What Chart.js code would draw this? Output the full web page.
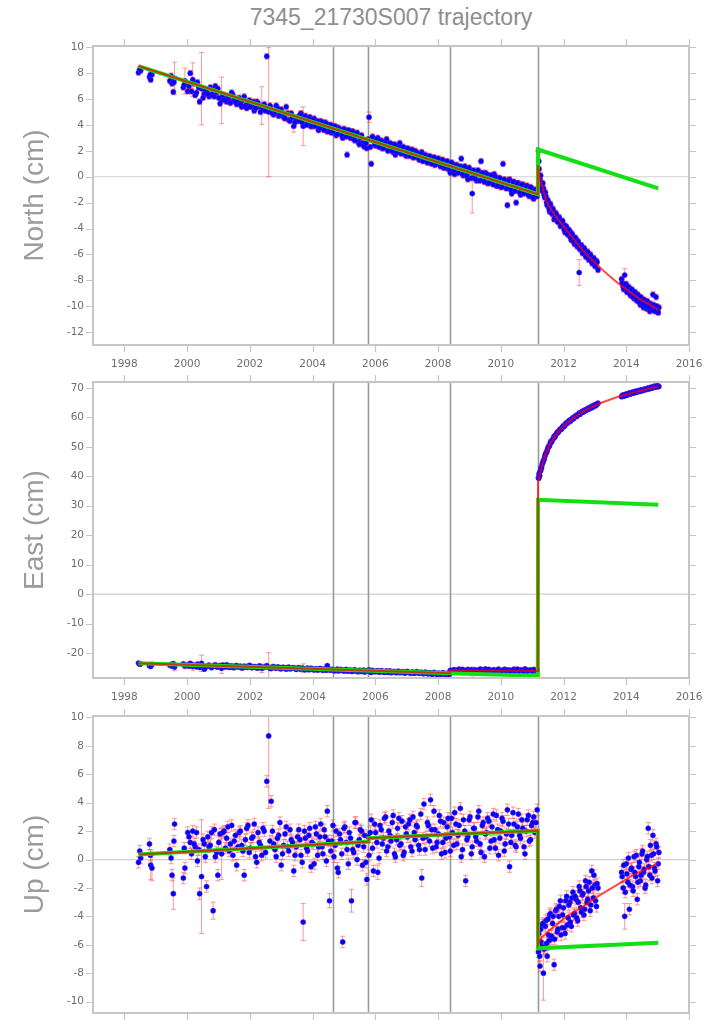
<!DOCTYPE html>
<html><head><meta charset="utf-8">
<script src="https://cdn.jsdelivr.net/npm/chart.js@4.4.1/dist/chart.umd.min.js"></script>
<style>
html,body{margin:0;padding:0;background:#fff;}
body{width:717px;height:1024px;position:relative;overflow:hidden;font-family:"Liberation Sans",Arial,sans-serif;}
#title{position:absolute;left:191px;width:400px;top:4px;text-align:center;font-size:23px;color:#8e8e8e;white-space:nowrap;}
canvas{position:absolute;left:0;}
</style></head><body>
<div id="title">7345_21730S007 trajectory</div>
<canvas id="cN" width="717" height="380" style="top:0px"></canvas>
<canvas id="cE" width="717" height="340" style="top:372px"></canvas>
<canvas id="cU" width="717" height="318" style="top:706px"></canvas>
<script>
// ---------------- data ----------------
const epochs = [
1998.45,1998.52,1998.80,1998.84,1998.88,1999.45,1999.52,1999.56,1999.60,1999.88,
1999.93,2000.02,2000.10,2000.18,2000.26,2000.33,2000.40,2000.46,2000.55,2000.62,
2000.70,2000.78,2000.83,2000.90,2000.98,2001.05,2001.10,2001.18,2001.26,2001.34,
2001.42,2001.50,2001.58,2001.66,2001.74,2001.82,2001.90,2001.98,2002.06,2002.14,
2002.22,2002.30,2002.38,2002.46,2002.54,2002.60,2002.68,2002.76,2002.84,2002.92,
2003.00,2003.08,2003.16,2003.24,2003.32,2003.40,2003.48,
2003.56,2003.63,2003.70,2003.77,2003.84,2003.91,2003.98,2004.05,2004.12,2004.19,
2004.26,2004.33,2004.40,2004.47,2004.54,2004.61,2004.68,2004.75,2004.82,2004.89,
2004.96,2005.03,2005.10,2005.17,2005.24,2005.31,2005.38,2005.45,2005.52,2005.59,
2005.66,2005.73,2005.80,2005.87,2005.94,2006.01,2006.08,2006.15,2006.22,2006.29,
2006.36,2006.43,2006.50,2006.57,2006.64,2006.71,2006.78,2006.85,2006.92,2006.99,
2007.06,2007.13,2007.20,2007.27,2007.34,2007.41,2007.48,2007.55,2007.62,2007.69,
2007.76,2007.83,2007.90,2007.97,2008.04,2008.11,2008.18,2008.25,2008.32,2008.39,
2008.46,2008.53,2008.60,2008.67,2008.74,2008.81,2008.88,2008.95,2009.02,2009.09,
2009.16,2009.23,2009.30,2009.37,2009.44,2009.51,2009.58,2009.65,2009.72,2009.79,
2009.86,2009.93,2010.00,2010.07,2010.14,2010.21,2010.28,2010.35,2010.42,2010.49,
2010.56,2010.63,2010.70,2010.77,2010.84,2010.91,2010.98,2011.05,2011.12,2011.16,
2011.20,2011.22,2011.25,2011.28,2011.32,2011.36,2011.40,2011.44,2011.48,2011.52,
2011.56,2011.60,2011.65,2011.70,2011.75,2011.80,2011.85,2011.90,2011.95,2012.00,
2012.05,2012.10,2012.15,2012.20,2012.25,2012.30,2012.35,2012.40,2012.45,2012.50,
2012.55,2012.60,2012.65,2012.70,2012.75,2012.80,2012.85,2012.90,2012.95,2013.00,
2013.05,2013.10,
2013.85,2013.90,2013.95,2014.00,2014.05,2014.10,2014.15,2014.20,2014.25,2014.30,
2014.35,2014.40,2014.45,2014.50,2014.55,2014.60,2014.65,2014.70,2014.75,2014.80,
2014.85,2014.90,2014.95,2015.00,2015.04,
// second pass of epochs
1998.49,1998.83,1999.49,1999.58,1999.91,2000.06,2000.14,2000.22,2000.30,2000.37,
2000.51,2000.58,2000.66,2000.74,2000.87,2000.94,2001.01,2001.14,2001.22,2001.30,
2001.38,2001.46,2001.54,2001.62,2001.70,2001.78,2001.86,2001.94,2002.02,2002.10,
2002.18,2002.26,2002.34,2002.42,2002.50,2002.64,2002.72,2002.80,2002.88,2002.96,
2003.04,2003.12,2003.20,2003.28,2003.36,2003.44,2003.52,
2003.60,2003.67,2003.74,2003.81,2003.88,2003.95,2004.02,2004.09,2004.16,2004.23,
2004.30,2004.37,2004.44,2004.51,2004.58,2004.65,2004.72,2004.79,2004.86,2004.93,
2005.00,2005.07,2005.14,2005.21,2005.28,2005.35,2005.42,2005.49,2005.56,2005.63,
2005.70,2005.77,2005.84,2005.91,2005.98,2006.05,2006.12,2006.19,2006.26,2006.33,
2006.40,2006.47,2006.54,2006.61,2006.68,2006.75,2006.82,2006.89,2006.96,2007.03,
2007.10,2007.17,2007.24,2007.31,2007.38,2007.45,2007.52,2007.59,2007.66,2007.73,
2007.80,2007.87,2007.94,2008.01,2008.08,2008.15,2008.22,2008.29,2008.36,2008.43,
2008.50,2008.57,2008.64,2008.71,2008.78,2008.85,2008.92,2008.99,2009.06,2009.13,
2009.20,2009.27,2009.34,2009.41,2009.48,2009.55,2009.62,2009.69,2009.76,2009.83,
2009.90,2009.97,2010.04,2010.11,2010.18,2010.25,2010.32,2010.39,2010.46,2010.53,
2010.60,2010.67,2010.74,2010.81,2010.88,2010.95,2011.02,2011.09,
2011.21,2011.24,2011.27,2011.30,2011.34,2011.38,2011.42,2011.46,2011.50,2011.54,
2011.58,2011.62,2011.67,2011.72,2011.77,2011.82,2011.87,2011.92,2011.97,2012.02,
2012.07,2012.12,2012.17,2012.22,2012.27,2012.32,2012.37,2012.42,2012.47,2012.52,
2012.57,2012.62,2012.67,2012.72,2012.77,2012.82,2012.87,2012.92,2012.97,2013.02,
2013.07,
2013.87,2013.92,2013.97,2014.02,2014.07,2014.12,2014.17,2014.22,2014.27,2014.32,
2014.37,2014.42,2014.47,2014.52,2014.57,2014.62,2014.67,2014.72,2014.77,2014.82,
2014.87,2014.92,2014.97,2015.02
];

const north = [
8.05,8.2,7.7,7.5,7.9,7.4,7.2,6.55,7.6,6.9,
7.4,6.6,8.0,7.5,6.3,7.3,5.8,6.8,6.4,6.6,
6.2,6.3,6.5,7.0,6.8,5.65,5.9,6.0,5.8,5.9,
6.5,6.0,5.6,6.1,5.4,6.2,5.3,5.9,5.5,5.1,
5.8,5.4,5.5,5.6,9.3,5.0,5.3,4.8,5.5,4.7,
5.2,4.6,5.4,4.4,4.9,3.9,4.5,
4.3,4.9,3.9,4.7,4.1,4.6,3.9,4.5,4.0,3.6,
4.3,3.7,4.2,3.5,4.0,3.4,3.9,3.2,3.8,3.4,
3.0,3.6,1.7,3.2,3.5,2.9,3.3,2.7,3.0,2.6,
2.3,2.2,4.6,1.0,2.9,2.4,3.0,2.6,2.2,2.7,
2.9,2.1,2.5,1.9,1.7,2.4,2.6,1.8,2.2,1.6,
2.1,1.9,1.5,2.0,1.7,1.3,1.9,1.4,1.6,1.1,
1.5,1.2,0.9,1.4,1.0,1.3,0.7,1.1,0.6,0.3,
1.0,0.2,0.9,0.5,1.4,0.1,0.6,-0.2,0.4,-1.3,
0.0,-0.3,0.4,1.2,-0.1,0.3,-0.5,0.1,-0.4,0.2,
-0.7,-0.1,-0.8,1.0,-0.3,-2.2,-0.2,-1.3,-0.4,-2.0,
-0.5,-1.4,-0.6,-1.2,-0.7,-1.5,-0.9,-1.7,-1.0,-1.5,
2.0,0.6,-0.2,-0.6,-1.1,-0.9,-1.6,-1.5,-2.2,-2.0,
-2.7,-2.3,-2.9,-3.3,-2.8,-3.4,-3.1,-3.8,-3.5,-3.7,
-4.3,-3.9,-4.5,-4.2,-4.9,-4.6,-5.2,-4.8,-5.4,-7.4,
-5.3,-5.9,-5.5,-6.1,-5.8,-6.4,-6.0,-6.6,-6.3,-6.9,
-6.5,-7.2,
-7.9,-8.5,-7.6,-8.3,-8.9,-8.6,-9.2,-8.8,-9.4,-9.0,
-9.6,-9.3,-9.9,-9.5,-10.1,-9.7,-10.2,-9.9,-10.4,-10.0,
-9.1,-10.3,-9.3,-10.4,-10.1,
8.3,7.9,7.8,7.3,7.1,7.0,6.6,7.2,6.5,6.9,
6.1,6.7,6.4,6.9,6.2,6.5,6.1,6.3,5.9,6.2,
5.7,6.3,5.8,5.9,5.6,5.9,5.5,5.7,5.4,5.8,
5.3,5.7,5.0,5.3,5.1,5.5,4.9,5.0,5.3,4.8,
4.9,4.5,4.9,4.3,4.6,4.2,4.6,
4.8,4.2,4.6,4.0,4.5,3.9,4.4,3.9,4.3,3.8,
4.2,3.6,4.1,3.5,4.0,3.5,3.9,3.3,3.7,3.2,
3.7,3.1,3.6,3.0,3.5,2.8,3.4,2.5,3.2,2.4,
2.6,2.9,2.3,3.1,2.5,2.9,2.3,2.8,2.2,2.6,
2.0,2.6,2.0,2.5,1.9,2.3,1.8,2.3,1.7,2.2,
1.6,2.1,1.5,1.9,1.4,1.8,1.2,1.7,1.1,1.6,
1.0,1.5,1.0,1.4,0.8,1.3,0.7,1.2,0.6,1.1,
0.5,0.9,0.3,0.8,0.2,0.8,0.1,0.7,-0.1,0.5,
-0.2,0.5,-0.3,0.3,-0.4,0.2,-0.5,0.1,-0.6,0.0,
-0.7,-0.1,-0.8,-0.2,-0.9,-0.3,-1.0,-0.4,-1.1,-0.5,
-1.2,-0.6,-1.3,-0.7,-1.4,-0.8,-1.6,-1.0,
1.2,-0.3,0.1,-0.9,-0.5,-1.4,-1.2,-2.0,-1.8,-2.5,
-2.1,-2.8,-2.5,-3.2,-2.9,-3.5,-3.2,-3.8,-3.4,-4.1,
-3.8,-4.4,-4.1,-4.7,-4.4,-5.0,-4.7,-5.3,-5.0,-5.6,
-5.3,-5.9,-5.6,-6.2,-5.8,-6.4,-6.1,-6.7,-6.3,-6.9,
-6.6,
-8.2,-8.7,-8.3,-8.9,-8.5,-9.1,-8.7,-9.3,-8.9,-9.5,
-9.1,-9.7,-9.3,-9.8,-9.5,-10.0,-9.6,-10.1,-9.8,-10.3,
-9.9,-10.4,-10.0,-10.5
];

const east = [
-23.4,-23.7,-24.3,-24.6,-23.9,-24.2,-24.5,-23.6,-24.8,-23.7,
-24.4,-24.0,-23.5,-24.6,-24.2,-23.8,-24.9,-23.5,-25.5,-24.6,
-24.1,-25.0,-24.5,-24.0,-24.8,-24.3,-25.2,-24.6,-24.0,-24.9,
-24.4,-25.0,-24.3,-24.8,-25.1,-24.5,-24.9,-24.2,-25.0,-24.6,
-25.1,-24.4,-25.2,-24.7,-24.3,-24.9,-25.3,-24.6,-25.2,-24.8,
-25.4,-24.9,-25.5,-24.8,-25.3,-25.0,-25.6,
-25.0,-25.5,-25.2,-25.7,-25.1,-25.6,-25.3,-25.8,-25.4,-25.7,
-25.3,-25.9,-25.5,-24.3,-25.8,-25.6,-26.0,-25.7,-26.1,-25.6,
-26.0,-25.8,-26.2,-25.9,-26.3,-25.8,-26.1,-26.4,-25.9,-26.2,
-26.5,-26.0,-25.7,-26.6,-26.2,-26.4,-26.0,-26.5,-26.2,-26.6,
-26.1,-26.4,-26.7,-26.3,-26.6,-26.2,-26.7,-26.4,-26.8,-26.3,
-26.6,-26.9,-26.5,-26.8,-26.4,-26.9,-26.6,-27.0,-26.7,-27.1,
-26.8,-27.2,-26.9,-27.3,-27.0,-27.2,-26.9,-27.4,-27.1,-25.9,
-26.2,-25.7,-26.0,-25.5,-26.3,-25.8,-26.1,-25.6,-26.0,-26.3,
-25.7,-25.9,-26.2,-25.6,-26.0,-25.4,-26.1,-25.8,-26.3,-25.7,
-26.0,-25.5,-25.9,-26.2,-25.6,-26.0,-25.8,-26.3,-25.5,-25.9,
-26.1,-25.7,-26.0,-25.4,-26.2,-25.8,-26.0,-25.6,-26.1,-25.9,
39.5,40.8,41.6,42.9,44.0,45.3,46.6,47.9,48.8,50.1,
50.6,51.9,52.3,53.6,53.9,55.0,55.2,56.1,56.3,57.2,
57.3,58.2,58.3,59.1,59.2,59.9,60.0,60.7,60.8,61.4,
61.5,62.1,62.0,62.6,62.7,63.2,63.2,63.8,63.7,64.3,
64.2,64.8,
67.0,67.6,67.3,67.9,67.7,68.3,68.0,68.6,68.3,68.9,
68.6,69.1,68.9,69.4,69.2,69.7,69.5,70.0,69.8,70.3,
70.1,70.6,70.3,70.8,70.5,
-23.8,-24.0,-23.9,-24.3,-24.1,-24.5,-23.9,-24.3,-24.7,-24.0,
-24.4,-24.9,-24.3,-24.6,-24.2,-24.7,-24.5,-24.1,-24.8,-24.3,
-24.6,-24.9,-24.4,-24.7,-24.5,-25.0,-24.6,-24.8,-24.4,-24.9,
-24.7,-25.1,-24.6,-25.0,-24.8,-25.2,-24.7,-25.0,-24.8,-25.3,
-24.9,-25.2,-25.0,-25.4,-25.1,-25.3,-25.1,
-25.4,-25.1,-25.6,-25.3,-25.7,-25.2,-25.6,-25.4,-25.8,-25.3,
-25.7,-25.5,-25.9,-25.4,-25.8,-25.6,-26.0,-25.5,-25.9,-25.7,
-26.1,-25.6,-26.0,-25.8,-26.2,-25.7,-26.1,-25.9,-26.3,-25.8,
-26.2,-26.0,-26.4,-25.9,-26.3,-26.1,-26.5,-26.0,-26.4,-26.2,
-26.6,-26.1,-26.5,-26.3,-26.7,-26.2,-26.6,-26.4,-26.8,-26.3,
-26.7,-26.5,-26.9,-26.4,-26.8,-26.6,-27.0,-26.5,-26.9,-26.7,
-27.1,-26.6,-27.0,-26.8,-27.2,-26.7,-27.1,-26.9,-27.3,
-26.0,-25.7,-26.1,-25.8,-26.2,-25.6,-26.0,-25.9,-26.3,-25.7,
-26.1,-25.8,-26.0,-25.5,-26.2,-25.9,-26.1,-25.6,-26.0,-25.8,
-26.3,-25.7,-25.9,-26.1,-25.6,-26.0,-25.8,-26.2,-25.7,-26.0,
-25.5,-26.1,-25.9,-26.2,-25.7,-26.0,-25.8,-26.1,-25.9,
39.3,40.2,41.9,42.8,44.7,45.7,47.4,48.1,49.5,50.1,
51.4,51.6,52.8,53.2,54.4,54.8,55.7,55.9,56.8,56.9,
57.9,58.0,58.8,58.7,59.5,59.5,60.3,60.3,61.0,61.0,
61.7,61.7,62.4,62.3,62.9,62.8,63.4,63.3,64.0,63.9,
64.5,
67.4,67.2,67.8,67.5,68.1,67.9,68.4,68.2,68.7,68.5,
69.0,68.8,69.3,69.1,69.5,69.4,69.8,69.6,70.1,69.9,
70.4,70.2,70.6,70.4
];

const up = [
-0.2,0.1,1.1,-0.4,-0.6,0.7,-1.1,-2.4,2.5,-1.3,
-0.6,1.9,1.2,2.0,0.9,-0.1,-2.4,-1.2,1.1,-1.9,
0.9,1.9,-3.6,0.2,-1.1,1.8,0.4,2.0,1.5,0.6,
2.4,1.3,-0.4,1.9,1.0,-1.1,2.2,0.5,1.5,2.5,
-0.2,1.2,0.3,2.0,5.5,8.7,4.1,1.1,0.2,1.7,
-0.4,1.0,2.3,0.6,1.4,-0.8,0.9,
2.1,0.3,-4.4,1.5,0.6,2.2,1.2,-0.3,1.8,0.9,
2.5,0.4,1.6,3.4,-2.9,1.3,0.2,2.0,-0.9,1.4,
-5.8,2.3,0.7,1.9,-2.9,0.5,2.6,1.0,2.1,-0.4,
1.7,-1.4,0.3,2.8,-0.8,1.9,-0.9,2.4,1.1,2.9,
0.6,2.0,1.3,3.1,0.2,2.2,1.0,2.7,0.5,1.8,
2.5,0.9,3.0,1.4,2.3,0.7,-1.3,3.9,1.6,2.4,
4.2,0.8,2.1,1.2,3.1,0.4,2.6,1.5,2.9,0.6,
1.9,3.3,1.1,2.4,0.2,2.8,-1.5,1.6,3.0,0.9,
2.2,1.3,3.4,0.5,2.6,1.8,2.9,0.8,2.3,1.4,
3.1,0.3,2.0,2.7,1.1,3.5,-0.5,1.7,2.5,0.9,
3.2,1.5,2.2,0.4,2.8,1.3,2.4,3.0,2.6,3.5,
-6.5,-5.0,-7.5,-5.8,-4.6,-8.0,-6.2,-4.3,-6.8,-5.3,
-3.9,-5.6,-4.5,-7.4,-3.6,-5.1,-4.0,-2.9,-4.8,-3.4,
-5.2,-2.6,-4.1,-3.0,-4.7,-2.3,-3.8,-2.8,-4.3,-1.9,
-3.4,-2.5,-3.9,-1.5,-3.0,-2.2,-3.6,-0.8,-2.7,-1.8,
-3.3,-2.0,
-0.9,-2.0,-4.0,-0.3,-1.6,-3.5,-0.7,-1.9,0.2,-1.2,
-2.8,-0.5,-1.5,0.4,-0.9,-2.0,0.0,2.2,-1.1,0.3,
1.7,-0.6,1.1,-1.5,0.5,
0.6,0.3,0.1,1.3,0.8,1.6,0.4,1.1,1.9,0.7,
1.4,0.2,1.6,1.0,2.1,0.5,1.2,1.9,0.8,2.3,
1.1,0.3,1.7,0.9,2.0,0.6,1.4,2.4,0.8,1.6,
0.2,1.9,1.0,2.2,0.5,1.3,2.0,0.7,1.5,2.6,
0.4,1.8,0.9,2.1,1.2,0.3,1.6,
1.4,-0.2,2.0,0.8,1.7,-0.5,1.1,2.3,0.3,1.6,
0.9,2.1,-0.1,1.3,0.6,2.4,1.0,-0.6,1.8,0.4,
2.2,1.2,-0.3,1.5,0.7,2.6,0.0,1.4,2.0,0.9,
-0.2,1.6,1.9,0.8,2.5,1.2,0.1,2.1,1.5,3.0,
0.9,1.7,2.6,0.4,1.4,2.9,1.1,0.3,2.3,1.6,
2.8,0.6,1.9,2.4,1.0,3.2,1.5,0.7,2.6,1.3,
2.1,3.4,0.9,1.8,2.7,1.2,0.5,2.3,1.6,2.9,
1.0,2.5,1.7,3.6,0.7,2.0,1.4,2.8,0.4,2.2,
1.6,3.0,1.1,2.4,0.2,1.9,2.7,1.3,3.2,0.8,
2.1,1.5,2.9,0.6,1.8,2.5,1.2,3.3,1.0,2.3,
1.7,2.8,0.9,2.0,3.1,1.4,2.6,1.9,
-5.2,-6.8,-4.9,-6.1,-4.5,-6.3,-4.7,-5.9,-4.2,-5.7,
-3.8,-5.4,-4.0,-5.6,-3.5,-4.9,-3.3,-5.3,-3.9,-4.8,
-2.9,-4.6,-3.2,-4.4,-2.7,-3.9,-2.6,-4.1,-3.0,-2.2,
-3.7,-2.4,-3.5,-1.9,-2.8,-1.6,-3.2,-2.0,-1.1,-2.9,
-1.7,
-1.2,-0.4,-2.3,-1.0,0.1,-1.8,-0.6,-2.2,-0.9,0.3,
-1.6,-0.2,-1.1,0.6,-0.7,-1.8,0.2,-0.5,1.0,-1.3,
0.4,-0.8,0.9,-0.3
];

// typical 1-sigma error bars (cm) and the larger ones visible in the picture
const baseSigmaH = 0.22;
const baseSigmaU = 0.4;
const bigSigmaH = [[1999.60,1.25],[1999.93,1.0],[2000.18,1.3],[2000.46,2.8],[2001.10,1.8],[2002.38,1.45],
  [2002.60,5.0],[2003.40,0.45],[2003.70,1.5],[2005.80,0.4],[2009.09,1.5],[2012.50,1.0],[2013.95,0.5]];
const bigSigmaU = [[1998.84,1.0],[1998.88,0.9],[1999.56,1.1],[2000.46,4.0],[2000.83,0.6],[2001.10,1.8],
  [2002.60,5.1],[2003.70,1.3],[2004.54,0.5],[2004.96,0.4],[2005.24,0.8],[2006.08,0.5],[2007.48,0.6],
  [2011.36,1.9],[2013.95,0.9]];

// fitted trajectory models (red: full model, green: model without post-seismic term)
const northModel = [[1998.45,8.55],[2011.18,-1.35],[2011.185,0.9],[2011.25,-0.2],[2011.35,-1.0],[2011.45,-1.8],
  [2011.57,-2.4],[2011.75,-3.05],[2011.9,-3.5],[2012.1,-4.15],[2012.3,-4.75],[2012.6,-5.65],[2012.9,-6.4],
  [2013.2,-7.1],[2013.5,-7.75],[2013.8,-8.35],[2014.1,-8.9],[2014.4,-9.4],[2014.7,-9.8],[2015.02,-10.25]];
const northNoPost = [[1998.45,8.55],[2011.18,-1.35],[2011.19,2.1],[2015.02,-0.9]];
const eastModel = [[1998.45,-23.5],[2008.38,-26.9],[2008.385,-25.9],[2011.18,-26.1],[2011.185,38.0],[2011.25,40.8],
  [2011.30,43.0],[2011.41,47.0],[2011.57,51.0],[2011.83,55.1],[2012.10,58.0],[2012.63,62.0],[2013.16,64.8],
  [2013.69,66.8],[2014.22,68.4],[2015.02,70.5]];
const eastNoPost = [[1998.45,-23.5],[2008.38,-26.9],[2011.18,-27.7],[2011.19,32.0],[2015.02,30.3]];
const upModel = [[1998.45,0.35],[2005.78,1.25],[2005.785,1.5],[2008.38,1.77],[2011.18,2.02],[2011.185,-6.0],
  [2011.3,-5.5],[2011.57,-4.95],[2011.85,-4.45],[2012.1,-4.0],[2012.63,-3.3],[2013.16,-2.5],[2013.69,-1.8],
  [2014.22,-1.1],[2015.02,-0.25]];
const upNoPost = [[1998.45,0.35],[2005.78,1.25],[2005.785,1.5],[2008.38,1.77],[2011.18,2.02],[2011.19,-6.25],[2015.02,-5.85]];

// equipment changes / events
const eventEpochs = [2004.64, 2005.78, 2008.38, 2011.18];

// tick labels
const xTickValues = [1998,2000,2002,2004,2006,2008,2010,2012,2014,2016];
const northTicks = [10,8,6,4,2,0,-2,-4,-6,-8,-10,-12];
const eastTicks = [70,60,50,40,30,20,10,0,-10,-20];
const upTicks = [10,8,6,4,2,0,-2,-4,-6,-8,-10];

// ---------------- drawing ----------------
const FRAME = '#c6c6c6';
const framePlugin = {
  id: 'frameAndBars',
  beforeDatasetsDraw(chart) {
    const {ctx, chartArea: a, scales: {x, y}} = chart;
    ctx.save();
    ctx.beginPath(); ctx.rect(a.left, a.top, a.right - a.left, a.bottom - a.top); ctx.clip();
    const y0 = y.getPixelForValue(0);
    ctx.strokeStyle = '#d0d0d0'; ctx.lineWidth = 1.2;
    ctx.beginPath(); ctx.moveTo(a.left, y0); ctx.lineTo(a.right, y0); ctx.stroke();
    ctx.strokeStyle = '#9a9a9a'; ctx.lineWidth = 1.6;
    eventEpochs.forEach(e => {
      const px = Math.round(x.getPixelForValue(e)) + 0.5;
      ctx.beginPath(); ctx.moveTo(px, a.top); ctx.lineTo(px, a.bottom); ctx.stroke();
    });
    const ds = chart.data.datasets[2];
    ctx.strokeStyle = 'rgba(255,70,70,0.55)'; ctx.lineWidth = 1;
    ds.data.forEach((p, i) => {
      const s = ds.sigma[i];
      const px = x.getPixelForValue(p.x);
      const yl = y.getPixelForValue(p.y - s), yh = y.getPixelForValue(p.y + s);
      ctx.beginPath();
      ctx.moveTo(px, yl); ctx.lineTo(px, yh);
      ctx.moveTo(px - 2.5, yl); ctx.lineTo(px + 2.5, yl);
      ctx.moveTo(px - 2.5, yh); ctx.lineTo(px + 2.5, yh);
      ctx.stroke();
    });
    ctx.restore();
  },
  afterDraw(chart) {
    const {ctx, chartArea: a, scales: {x, y}} = chart;
    ctx.save();
    ctx.strokeStyle = FRAME; ctx.lineWidth = 2;
    ctx.strokeRect(a.left, a.top, a.right - a.left, a.bottom - a.top);
    ctx.lineWidth = 1.2;
    ctx.beginPath();
    x.ticks.forEach(t => {
      const px = Math.round(x.getPixelForValue(t.value)) + 0.5;
      ctx.moveTo(px, a.top - 1); ctx.lineTo(px, a.top - 7);
      ctx.moveTo(px, a.bottom + 1); ctx.lineTo(px, a.bottom + 7);
    });
    y.ticks.forEach(t => {
      const py = Math.round(y.getPixelForValue(t.value)) + 0.5;
      ctx.moveTo(a.left - 1, py); ctx.lineTo(a.left - 7, py);
      ctx.moveTo(a.right + 1, py); ctx.lineTo(a.right + 7, py);
    });
    ctx.stroke();
    ctx.restore();
  }
};

function sigmaList(base, big) {
  const m = new Map(big.map(([t, s]) => [t.toFixed(2), s]));
  return epochs.map(t => m.has(t.toFixed(2)) ? m.get(t.toFixed(2)) : base);
}
const toXY = arr => arr.map(([x, y]) => ({x, y}));

function panel(id, cfg) {
  new Chart(document.getElementById(id), {
    type: 'scatter',
    data: {
      datasets: [
        {label: 'Model', data: toXY(cfg.model), showLine: true, borderColor: 'rgba(255,0,0,0.72)', borderWidth: 2,
         pointRadius: 0, order: 0, tension: 0},
        {label: 'Model without post-seismic', data: toXY(cfg.noPost), showLine: true, borderColor: '#12e012',
         borderWidth: 4, pointRadius: 0, order: 1, tension: 0},
        {label: 'Observed', data: epochs.map((t, i) => ({x: t, y: cfg.values[i]})), sigma: cfg.sigma,
         pointRadius: 2.6, pointBackgroundColor: '#0000ff', pointBorderWidth: 0.8,
         pointBorderColor: 'rgba(110,40,220,0.55)', order: 2}
      ]
    },
    options: {
      responsive: false, animation: false, events: [],
      layout: {padding: {top: cfg.padTop, right: 28, left: 0, bottom: 0}},
      plugins: {legend: {display: false}, tooltip: {enabled: false}},
      scales: {
        x: {
          type: 'linear', min: 1997, max: 2016,
          afterBuildTicks: s => { s.ticks = xTickValues.map(v => ({value: v})); },
          afterFit: s => { s.height = cfg.xH; },
          grid: {drawOnChartArea: false, color: 'rgba(0,0,0,0)', tickLength: 6},
          border: {display: false},
          ticks: {callback: v => String(v), color: '#6e6e6e', font: {family: 'DejaVu Sans', size: 10.5},
                  padding: 7, maxRotation: 0, autoSkip: false}
        },
        y: {
          type: 'linear', min: cfg.min, max: cfg.max,
          afterBuildTicks: s => { s.ticks = cfg.ticks.map(v => ({value: v})); },
          afterFit: s => { s.width = 93; },
          grid: {drawOnChartArea: false, color: 'rgba(0,0,0,0)', tickLength: 6},
          border: {display: false},
          ticks: {callback: v => String(v), color: '#6e6e6e', font: {family: 'DejaVu Sans', size: 10.5},
                  padding: 3, autoSkip: false},
          title: {display: true, text: cfg.title, color: '#9c9c9c',
                  font: {family: 'Liberation Sans', size: 28}, padding: {top: 18, bottom: 0}}
        }
      }
    },
    plugins: [framePlugin]
  });
}

const sigH = sigmaList(baseSigmaH, bigSigmaH);
const sigU = sigmaList(baseSigmaU, bigSigmaU);

panel('cN', {values: north, sigma: sigH, model: northModel, noPost: northNoPost, min: -13, max: 10.1,
  ticks: northTicks, title: 'North (cm)', padTop: 46, xH: 35});
panel('cE', {values: east, sigma: sigH, model: eastModel, noPost: eastNoPost, min: -28.5, max: 72,
  ticks: eastTicks, title: 'East (cm)', padTop: 10, xH: 34});
panel('cU', {values: up, sigma: sigU, model: upModel, noPost: upNoPost, min: -10.8, max: 10.1,
  ticks: upTicks, title: 'Up (cm)', padTop: 10, xH: 11});
</script>
</body></html>
